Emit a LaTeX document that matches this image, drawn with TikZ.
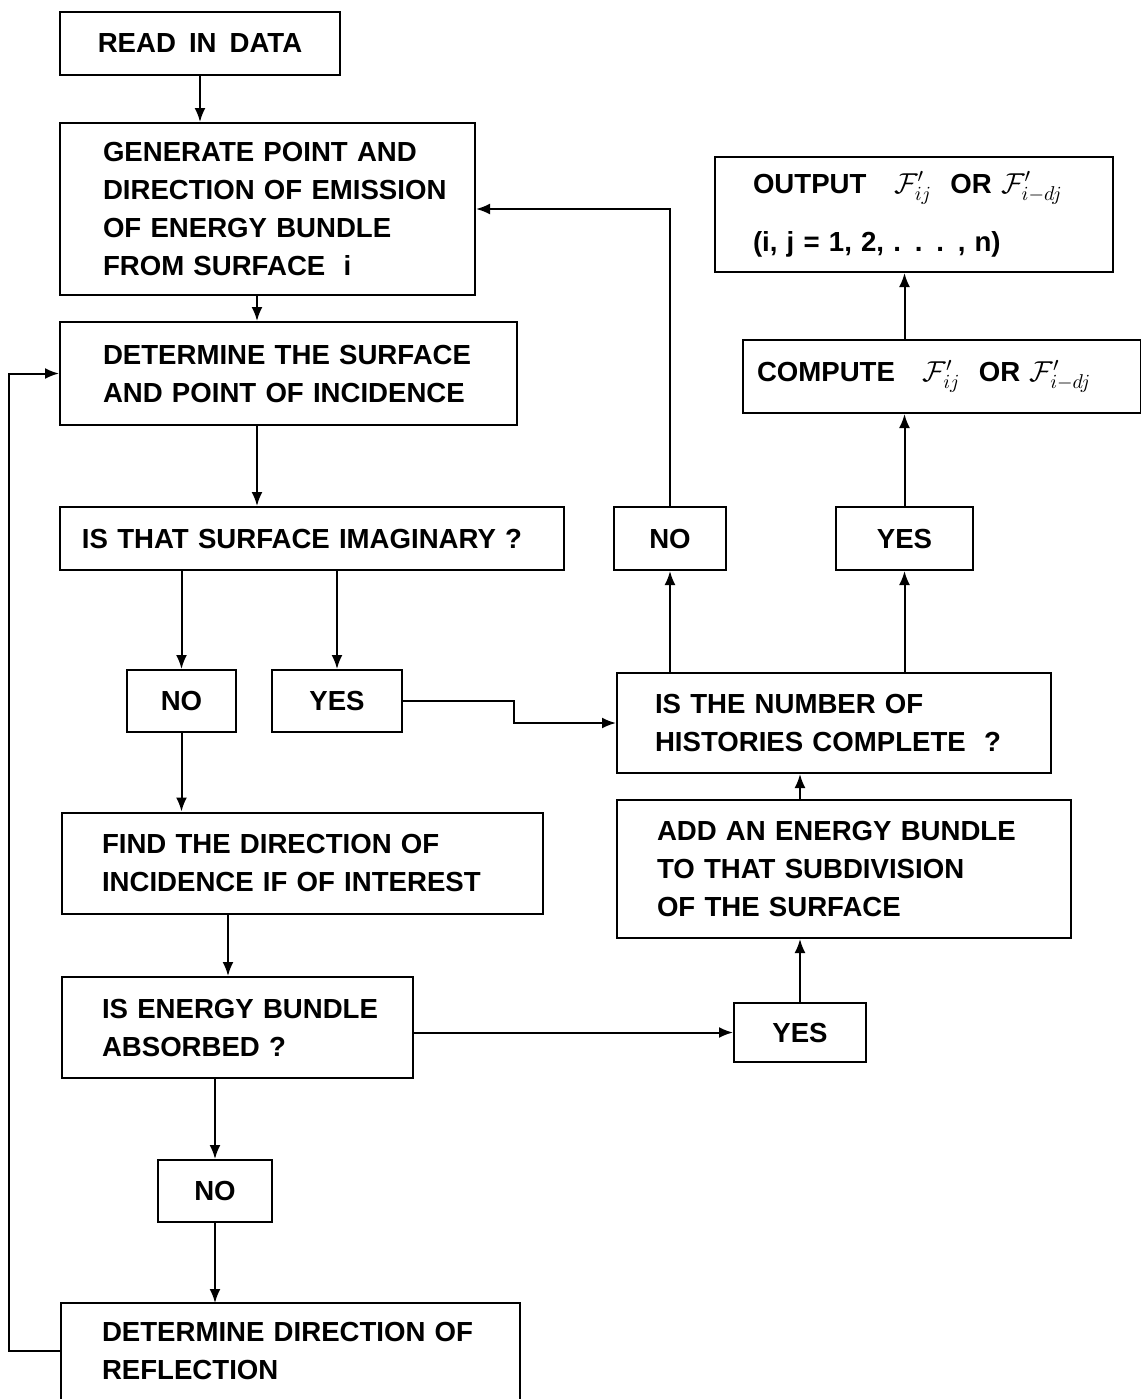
\documentclass[tikz,border=0pt]{standalone}
\usepackage{fontspec}
\setmainfont{Liberation Sans}[WordSpace=1.7]
\usetikzlibrary{arrows.meta}
\newcommand\ml[1]{\mbox{#1}}
\newcommand\fij{$\mathcal{F}'_{ij}$}
\newcommand\fidj{$\mathcal{F}'_{i-dj}$}
\begin{document}
\begin{tikzpicture}[x=0.5pt,y=-0.5pt,
  bx/.style={draw,line width=1pt,inner sep=0pt,align=left,font=\fontsize{13.8}{19}\selectfont\bfseries},
  sb/.style={draw,line width=1pt,inner sep=0pt,align=center,font=\fontsize{13.8}{19}\selectfont\bfseries},
  arr/.style={line width=1pt,-{Latex[length=7pt,width=5.5pt]}},
  ln/.style={line width=1pt}]
\useasboundingbox (0,0) rectangle (1141,1399);
% boxes
\node[sb,minimum width=140pt,minimum height=31.5pt] (read) at (200,43.5) {READ IN DATA};
\node[bx,minimum height=86pt,inner xsep=21.5pt,text width=164.5pt] (gen) at (267.5,209)
  {\ml{GENERATE POINT AND}\\\ml{DIRECTION OF EMISSION}\\\ml{OF ENERGY BUNDLE}\\\ml{FROM SURFACE\ \ i}};
\node[bx,minimum height=57.5pt,inner xsep=19pt,text width=161pt] (out) at (914,214.5)
  {\ml{OUTPUT\ \ \ \fij\ \ OR\ \fidj}\\[10pt]\ml{(i, j = 1, 2, . . . , n)}};
\node[bx,minimum height=36.5pt,inner xsep=7pt,text width=185pt] (comp) at (942,376.5)
  {\ml{COMPUTE\ \ \ \fij\ \ OR\ \fidj}};
\node[bx,minimum height=51.5pt,inner xsep=21.5pt,text width=185.5pt] (det) at (288.5,373.5)
  {\ml{DETERMINE THE SURFACE}\\\ml{AND POINT OF INCIDENCE}};
\node[bx,minimum height=31.5pt,inner xsep=11pt,text width=230pt] (imag) at (312,538.5)
  {\ml{IS THAT SURFACE IMAGINARY ?}};
\node[sb,minimum width=56pt,minimum height=31.5pt] (no1) at (670,538.5) {NO};
\node[sb,minimum width=68.5pt,minimum height=31.5pt] (yes1) at (904.5,538.5) {YES};
\node[sb,minimum width=54.5pt,minimum height=31pt] (no2) at (181.5,701) {NO};
\node[sb,minimum width=65pt,minimum height=31pt] (yes2) at (337,701) {YES};
\node[bx,minimum height=50pt,inner xsep=19pt,text width=179pt] (hist) at (834,723)
  {\ml{IS THE NUMBER OF}\\\ml{HISTORIES COMPLETE\ \ ?}};
\node[bx,minimum height=69pt,inner xsep=20pt,text width=187pt] (add) at (844,869)
  {\ml{ADD AN ENERGY BUNDLE}\\\ml{TO THAT SUBDIVISION}\\\ml{OF THE SURFACE}};
\node[bx,minimum height=50.5pt,inner xsep=20pt,text width=200.5pt] (find) at (302.5,863)
  {\ml{FIND THE DIRECTION OF}\\\ml{INCIDENCE IF OF INTEREST}};
\node[bx,minimum height=50.5pt,inner xsep=20pt,text width=135.5pt] (abs) at (237.5,1027.5)
  {\ml{IS ENERGY BUNDLE}\\\ml{ABSORBED ?}};
\node[sb,minimum width=66pt,minimum height=29.5pt] (yes3) at (800,1032.5) {YES};
\node[sb,minimum width=57pt,minimum height=31pt] (no3) at (215,1191) {NO};
\node[bx,draw=none,minimum height=47pt,inner xsep=20pt,text width=188.5pt] (refl) at (290.5,1351)
  {\ml{DETERMINE DIRECTION OF}\\\ml{REFLECTION}};
\draw[ln] ([yshift=-20pt]refl.south west) |- (refl.north east) -- ([yshift=-20pt]refl.south east);
% connectors
\draw[arr] (read.south) -- (read.south |- gen.north);
\draw[arr] ([xshift=-5.25pt]gen.south) -- ([xshift=-5.25pt]gen.south |- det.north);
\draw[arr] ([xshift=-15.75pt]det.south) -- ([xshift=-15.75pt]det.south |- imag.north);
\draw[arr] (no2.north |- imag.south) -- (no2.north);
\draw[arr] (yes2.north |- imag.south) -- (yes2.north);
\draw[arr] (no2.south) -- (no2.south |- find.north);
\draw[arr] (yes2.east) -- ++(55.5pt,0) |- (hist.west);
\draw[arr] ([xshift=-37.25pt]find.south) -- ([xshift=-37.25pt]find.south |- abs.north);
\draw[arr] (abs.east |- yes3.west) -- (yes3.west);
\draw[arr] (no3.north |- abs.south) -- (no3.north);
\draw[arr] (no3.south) -- (no3.south |- refl.north);
\draw[arr] (refl.west) -- ++(-26pt,0) |- (det.west);
\draw[arr] (yes3.north) -- (yes3.north |- add.south);
\draw[arr] (yes3.north |- add.north) -- (yes3.north |- hist.south);
\draw[arr] (no1.south |- hist.north) -- (no1.south);
\draw[arr] (yes1.south |- hist.north) -- (yes1.south);
\draw[arr] (no1.north) |- (gen.east);
\draw[arr] (yes1.north) -- (yes1.north |- comp.south);
\draw[arr] (yes1.north |- comp.north) -- (yes1.north |- out.south);
\end{tikzpicture}
\end{document}
